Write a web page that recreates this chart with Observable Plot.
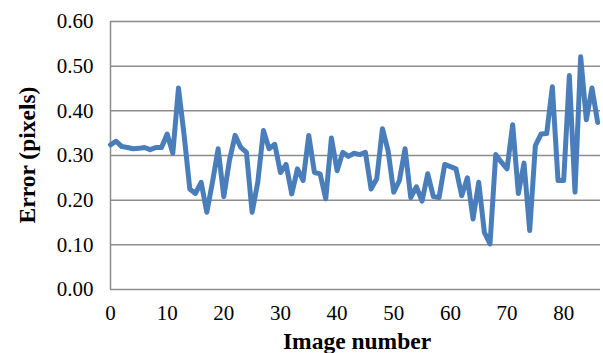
<!DOCTYPE html>
<html>
<head>
<meta charset="utf-8">
<script src="https://cdn.jsdelivr.net/npm/d3@7"></script>
<script src="https://cdn.jsdelivr.net/npm/@observablehq/plot@0.6"></script>
<style>
  body { margin: 0; background: #fff; }
  #chart { position: relative; width: 603px; height: 353px; font-family: "Liberation Serif", "Times New Roman", serif; }
  #plot svg text { font-family: "Liberation Serif", serif; font-size: 21px; }
  #ylabel { position: absolute; left: 27px; top: 155px; transform: translate(-50%, -50%) rotate(-90deg); font-weight: bold; font-size: 23.5px; white-space: nowrap; color: #000; }
  #xlabel { position: absolute; left: 357px; top: 341px; transform: translate(-50%, -50%); font-weight: bold; font-size: 23.5px; white-space: nowrap; color: #000; }
</style>
</head>
<body>
<div id="chart">
  <div id="plot"></div>
  <div id="ylabel">Error (pixels)</div>
  <div id="xlabel">Image number</div>
</div>
<script>
const imageNumber = d3.range(0, 87);
const errorPx = [
  0.324, 0.332, 0.320, 0.318, 0.315, 0.316, 0.318, 0.313, 0.318, 0.318,
  0.348, 0.305, 0.451, 0.345, 0.225, 0.215, 0.240, 0.173, 0.240, 0.315,
  0.208, 0.289, 0.345, 0.318, 0.307, 0.173, 0.240, 0.356, 0.315, 0.325,
  0.262, 0.280, 0.214, 0.270, 0.244, 0.345, 0.262, 0.259, 0.203, 0.339,
  0.266, 0.307, 0.298, 0.305, 0.302, 0.307, 0.225, 0.248, 0.360, 0.311,
  0.218, 0.244, 0.315, 0.206, 0.230, 0.198, 0.259, 0.208, 0.206, 0.280,
  0.275, 0.270, 0.210, 0.250, 0.158, 0.240, 0.128, 0.102, 0.302, 0.285,
  0.270, 0.369, 0.215, 0.283, 0.132, 0.322, 0.348, 0.349, 0.454, 0.244,
  0.244, 0.479, 0.218, 0.521, 0.380, 0.451, 0.374
];
const yTicks = [0, 0.1, 0.2, 0.3, 0.4, 0.5, 0.6];
const xTicks = [0, 10, 20, 30, 40, 50, 60, 70, 80];

const data = imageNumber.map((x, i) => ({x, y: errorPx[i]}));
const serif = "Liberation Serif, serif";

const plot = Plot.plot({
  width: 603,
  height: 353,
  marginLeft: 110,
  marginRight: 3,
  marginTop: 21,
  marginBottom: 64,
  style: { fontSize: "21px", color: "#000", background: "#fff" },
  x: { domain: [0, 86.5], ticks: xTicks, tickFormat: d => String(d), label: null },
  y: { domain: [0, 0.6], ticks: yTicks, tickFormat: d => d.toFixed(2), label: null },
  marks: [
    Plot.ruleY(yTicks, { stroke: "#8c8c8c", strokeWidth: 1.5 }),
    Plot.ruleX([0], { stroke: "#8c8c8c", strokeWidth: 1.5 }),
    Plot.axisY({ ticks: yTicks, tickSize: 0, tickPadding: 17, tickFormat: d => d.toFixed(2), label: null, fontSize: 21, fontFamily: serif }),
    Plot.axisX({ ticks: xTicks, tickSize: 0, tickPadding: 16, label: null, fontSize: 21, fontFamily: serif }),
    Plot.line(data, { x: "x", y: "y", stroke: "#4a7ebb", strokeWidth: 5, strokeLinejoin: "round", strokeLinecap: "round" })
  ]
});
document.getElementById("plot").appendChild(plot);
</script>
</body>
</html>
